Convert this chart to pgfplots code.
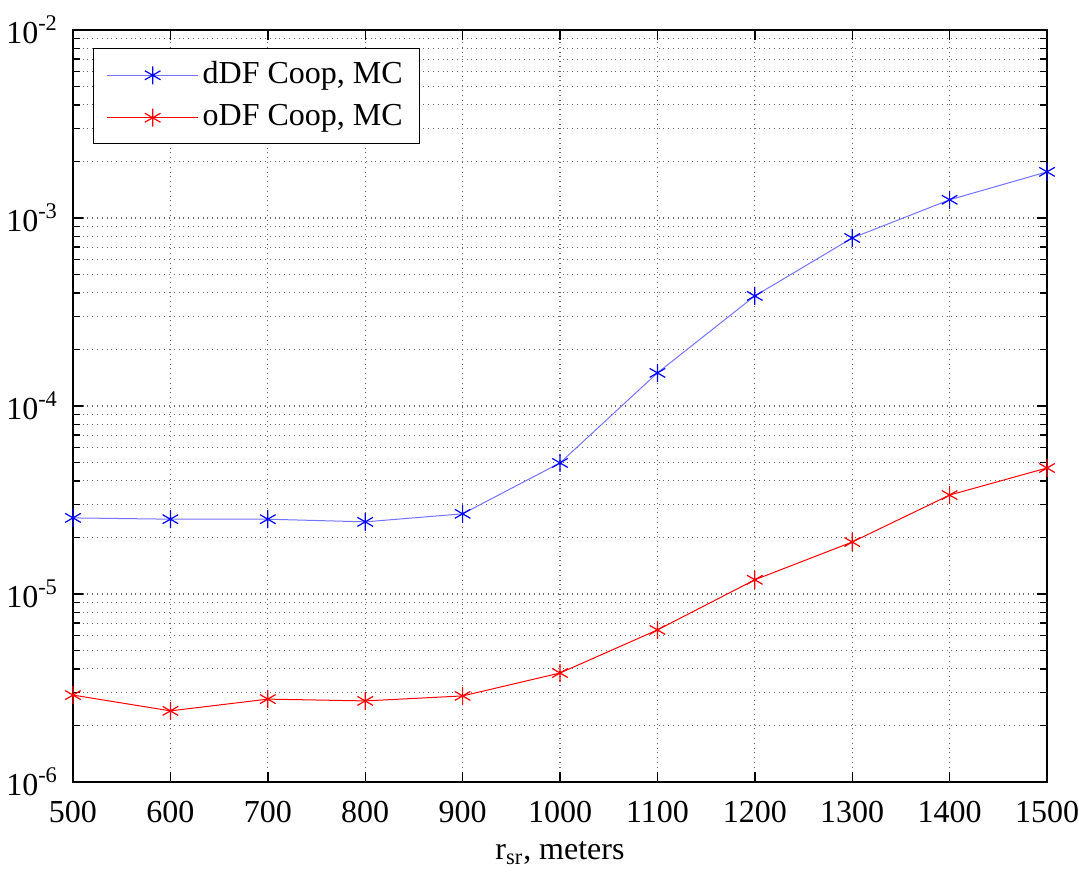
\documentclass[border=0pt]{standalone}
\usepackage{pgfplots}
\pgfplotsset{compat=1.18}
\usetikzlibrary{calc}
\usepackage{fontspec}
\setmainfont{Liberation Serif}
\begin{document}
\fontsize{16}{19}\selectfont
\begin{tikzpicture}
\begin{axis}[
  scale only axis,
  width=487pt, height=376pt,
  ymode=log,
  xmin=500, xmax=1500, ymin=1e-6, ymax=1e-2,
  xtick={500,600,...,1500},
  ytick={1e-6,1e-5,1e-4,1e-3,1e-2},
  minor ytick={2e-6,3e-6,4e-6,5e-6,6e-6,7e-6,8e-6,9e-6,2e-5,3e-5,4e-5,5e-5,6e-5,7e-5,8e-5,9e-5,2e-4,3e-4,4e-4,5e-4,6e-4,7e-4,8e-4,9e-4,2e-3,3e-3,4e-3,5e-3,6e-3,7e-3,8e-3,9e-3},
  yticklabels={10\textsuperscript{-6},10\textsuperscript{-5},10\textsuperscript{-4},10\textsuperscript{-3},10\textsuperscript{-2}},
  xticklabel style={/pgf/number format/assume math mode=true, /pgf/number format/set thousands separator={}, yshift=-4pt},
  yticklabel style={xshift=-2pt},
  log basis y=10,
  tick align=inside,
  tick pos=both,
  major tick length=5pt,
  minor tick length=3.5pt,
  tick style={black, line width=0.7pt},
  axis line style={black, line width=0.7pt},
  grid=both,
  xminorgrids=false,
  major grid style={dotted, black!60, line width=0.6pt},
  minor grid style={dotted, black!60, line width=0.6pt},
  xlabel={r\textsubscript{sr}, meters},
  xlabel style={yshift=1.5pt},
  legend style={at={(0.0205,0.976)}, anchor=north west, draw=black, line width=0.7pt, font=\fontsize{16}{19}\selectfont, inner xsep=6.5pt, inner ysep=4.5pt, row sep=4pt, cells={anchor=west}},
  legend cell align=left,
  legend image code/.code={\draw[#1, mark repeat=2, mark phase=2] plot coordinates {(0cm,0cm) (0.8cm,0cm) (1.6cm,0cm)};},
]
\addplot[draw=blue!55, line width=0.5pt, mark=asterisk, mark size=4.5pt, mark options={draw=blue, line width=0.6pt}] coordinates {
(500,2.54e-5) (600,2.5e-5) (700,2.5e-5) (800,2.42e-5) (900,2.67e-5) (1000,4.98e-5) (1100,1.5e-4) (1200,3.85e-4) (1300,7.83e-4) (1400,1.25e-3) (1500,1.76e-3)};
\addlegendentry{dDF Coop, MC}
\addplot[draw=red, line width=0.5pt, mark=asterisk, mark size=4.5pt, mark options={draw=red, line width=0.6pt}] coordinates {
(500,2.9e-6) (600,2.39e-6) (700,2.76e-6) (800,2.7e-6) (900,2.87e-6) (1000,3.8e-6) (1100,6.44e-6) (1200,1.19e-5) (1300,1.89e-5) (1400,3.36e-5) (1500,4.68e-5)};
\addlegendentry{oDF Coop, MC}
\end{axis}
\pgfresetboundingbox
\path[use as bounding box] ($(current axis.south west)+(-36.5pt,-46pt)$) rectangle ($(current axis.north east)+(16pt,15pt)$);
\end{tikzpicture}
\end{document}
